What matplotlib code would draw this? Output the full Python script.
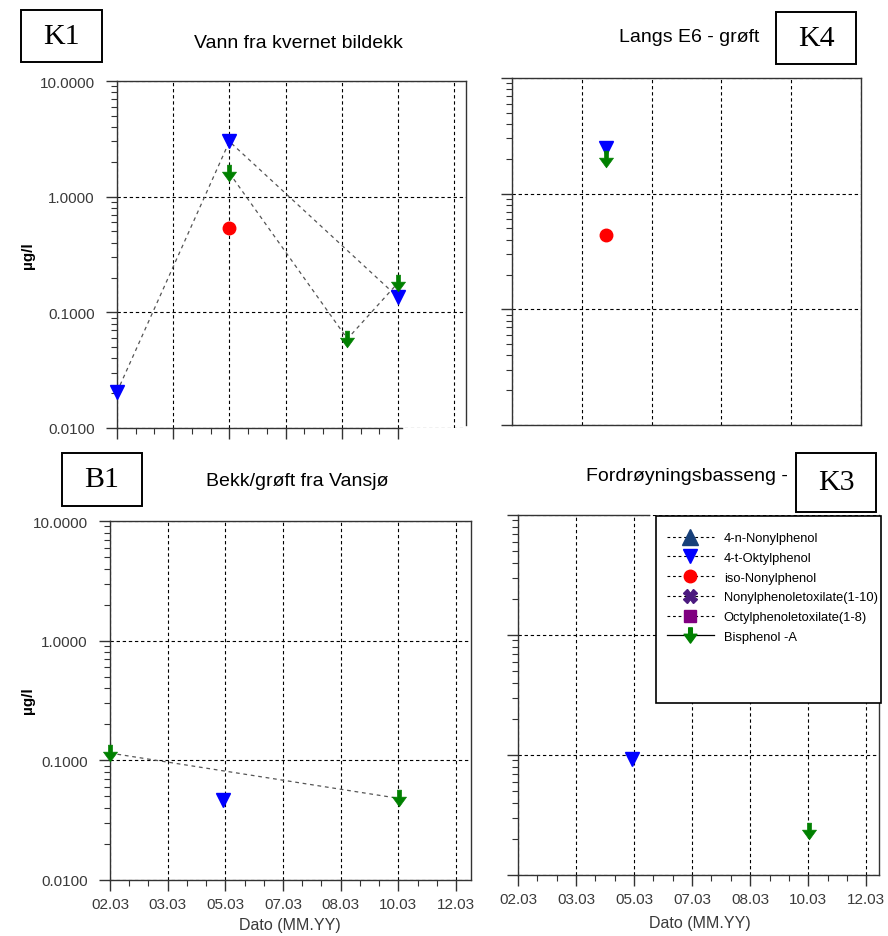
import matplotlib
matplotlib.use('Agg')
import matplotlib.pyplot as plt
import numpy as np
from matplotlib.lines import Line2D
from matplotlib.patches import Rectangle
from matplotlib.path import Path
from matplotlib.ticker import FixedLocator, FixedFormatter, NullFormatter, LogLocator

plt.rcParams['font.family'] = ['Liberation Sans', 'DejaVu Sans']

W, H, DPI = 888, 937, 100

# ---------------- data ----------------
date_labels = ['02.03', '03.03', '05.03', '07.03', '08.03', '10.03', '12.03']
y_ticks = [0.01, 0.1, 1.0, 10.0]
y_tick_labels = ['0.0100', '0.1000', '1.0000', '10.0000']

series_names = ['4-n-Nonylphenol', '4-t-Oktylphenol', 'iso-Nonylphenol',
                'Nonylphenoletoxilate(1-10)', 'Octylphenoletoxilate(1-8)', 'Bisphenol -A']

# K1 - Vann fra kvernet bildekk
k1_okt_x = [0, 2, 5]
k1_okt_y = [0.0205, 3.0, 0.135]
k1_bpa_x = [2, 4.1, 5]
k1_bpa_y = [1.6, 0.059, 0.18]
k1_iso_x = [2]
k1_iso_y = [0.54]

# K4 - Langs E6 - grøft
k4_okt_x = [1.34]
k4_okt_y = [2.5]
k4_bpa_x = [1.34]
k4_bpa_y = [2.0]
k4_iso_x = [1.34]
k4_iso_y = [0.436]

# B1 - Bekk/grøft fra Vansjø
b1_okt_x = [1.96]
b1_okt_y = [0.047]
b1_bpa_x = [0, 5.02]
b1_bpa_y = [0.115, 0.048]

# K3 - Fordrøyningsbasseng
k3_okt_x = [1.97]
k3_okt_y = [0.093]
k3_bpa_x = [5.02]
k3_bpa_y = [0.0234]

# ---------------- styles ----------------
C_NNP = '#17407a'
C_OKT = '#0000ff'
C_ISO = '#ff0000'
C_NPE = '#4b1a7f'
C_OPE = '#800080'
C_BPA = '#008000'
SPC = '#333333'
TXT = '#3a3a3a'

bpa_path = Path([(-0.12, 0.5), (0.12, 0.5), (0.12, 0.08), (0.42, 0.08), (0, -0.5),
                 (-0.42, 0.08), (-0.12, 0.08), (-0.12, 0.5)],
                [Path.MOVETO] + [Path.LINETO] * 6 + [Path.CLOSEPOLY])

LINE_KW = dict(color='#555555', lw=0.9, linestyle=(0, (3, 3)))
GRID_KW = dict(color='black', lw=0.8, linestyle=(0, (3, 2.5)))

fig = plt.figure(figsize=(W / DPI, H / DPI), dpi=DPI)
fig.patch.set_facecolor('white')


def px_axes(l, t, r, b):
    return fig.add_axes([l / W, 1 - b / H, (r - l) / W, (b - t) / H])


def style(ax, xmax, xmajor, ylabels, xlabels, xticks=True, xminor_end=None):
    ax.set_yscale('log')
    ax.set_ylim(0.01, 10)
    ax.set_xlim(0, xmax)
    ax.yaxis.set_major_locator(FixedLocator(y_ticks))
    ax.yaxis.set_major_formatter(FixedFormatter(y_tick_labels))
    ax.yaxis.set_minor_locator(LogLocator(base=10, subs=np.arange(2, 10)))
    ax.yaxis.set_minor_formatter(NullFormatter())
    ax.xaxis.set_major_locator(FixedLocator(xmajor))
    if xlabels:
        ax.xaxis.set_major_formatter(FixedFormatter(date_labels[:len(xmajor)]))
    else:
        ax.xaxis.set_major_formatter(NullFormatter())
    if xminor_end is not None:
        mins = [i + f for i in range(int(xminor_end)) for f in (1 / 3, 2 / 3)]
        ax.xaxis.set_minor_locator(FixedLocator(mins))
    ax.tick_params(axis='y', which='major', length=8, width=1, color=SPC,
                   labelsize=11, labelcolor=TXT, pad=8, labelleft=ylabels)
    ax.tick_params(axis='y', which='minor', length=4, width=0.8, color=SPC)
    if xticks:
        ax.tick_params(axis='x', which='major', length=8, width=1, color=SPC,
                       labelsize=11, labelcolor=TXT, pad=4)
        ax.tick_params(axis='x', which='minor', length=4, width=0.8, color=SPC)
    else:
        ax.tick_params(axis='x', which='both', length=0, labelbottom=False)
    ax.grid(True, which='major', **GRID_KW)
    for s in ax.spines.values():
        s.set_color(SPC)
        s.set_linewidth(1.0)


def plot_okt(ax, x, y, line):
    ax.plot(x, y, marker='v', ms=10, mfc=C_OKT, mec=C_OKT, clip_on=False,
            **(LINE_KW if line else dict(linestyle='none')), zorder=3)


def plot_bpa(ax, x, y, line):
    ax.plot(x, y, marker=bpa_path, ms=12, mfc=C_BPA, mec=C_BPA, mew=0.5, clip_on=False,
            **(LINE_KW if line else dict(linestyle='none')), zorder=3)


def plot_iso(ax, x, y):
    ax.plot(x, y, marker='o', ms=9, mfc=C_ISO, mec=C_ISO, linestyle='none',
            clip_on=False, zorder=3)


# ---- K1 ----
ax1 = px_axes(117, 82, 466, 429)
style(ax1, 6.21, list(range(7)), True, False, True, 5)
ax1.xaxis.get_major_ticks()[6].tick1line.set_visible(False)
ax1.spines['bottom'].set_bounds(0, 5.07)
ax1.spines['right'].set_bounds(0.0106, 10)
plot_okt(ax1, k1_okt_x, k1_okt_y, True)
plot_bpa(ax1, k1_bpa_x, k1_bpa_y, True)
plot_iso(ax1, k1_iso_x, k1_iso_y)

# ---- K4 ----
ax2 = px_axes(512, 79, 861, 426)
style(ax2, 5.0, list(range(6)), False, False, False, None)
plot_okt(ax2, k4_okt_x, k4_okt_y, False)
plot_bpa(ax2, k4_bpa_x, k4_bpa_y, False)
plot_iso(ax2, k4_iso_x, k4_iso_y)

# ---- B1 ----
ax3 = px_axes(110, 522, 471, 881)
style(ax3, 6.26, list(range(7)), True, True, True, 6)
plot_okt(ax3, b1_okt_x, b1_okt_y, False)
plot_bpa(ax3, b1_bpa_x, b1_bpa_y, True)

# ---- K3 ----
ax4 = px_axes(518, 516, 879, 876)
style(ax4, 6.22, list(range(7)), False, True, True, 6)
ax4.spines['top'].set_bounds(0, 2.26)
plot_okt(ax4, k3_okt_x, k3_okt_y, False)
plot_bpa(ax4, k3_bpa_x, k3_bpa_y, False)


# ---------------- texts ----------------
def ftext(x, y, s, **kw):
    fig.text(x / W, 1 - y / H, s, **kw)


ftext(298, 43, 'Vann fra kvernet bildekk', fontsize=14, ha='center', va='center')
ftext(689, 38, 'Langs E6 - grøft', fontsize=14, ha='center', va='center')
ftext(297, 482, 'Bekk/grøft fra Vansjø', fontsize=14, ha='center', va='center')
ftext(687, 477, 'Fordrøyningsbasseng -', fontsize=14, ha='center', va='center')

ftext(28, 256, 'µg/l', fontsize=11, fontweight='bold', rotation=90, ha='center', va='center')
ftext(28, 701, 'µg/l', fontsize=11, fontweight='bold', rotation=90, ha='center', va='center')

ftext(290, 926, 'Dato (MM.YY)', fontsize=11.5, color=TXT, ha='center', va='center')
ftext(700, 924, 'Dato (MM.YY)', fontsize=11.5, color=TXT, ha='center', va='center')


def label_box(l, t, r, b, s):
    fig.patches.append(Rectangle((l / W, 1 - b / H), (r - l) / W, (b - t) / H,
                                 transform=fig.transFigure, facecolor='white',
                                 edgecolor='black', lw=1.4, zorder=3))
    fig.text((l + r) / 2 / W, 1 - (t + b) / 2 / H, s, fontsize=21.5,
             family=['Liberation Serif', 'DejaVu Serif'], ha='center', va='center', zorder=4)


label_box(21, 11, 102, 63, 'K1')
label_box(776, 13, 856, 65, 'K4')
label_box(62, 454, 142, 507, 'B1')
label_box(796, 454, 876, 513, 'K3')

# ---------------- legend ----------------
fig.patches.append(Rectangle((656 / W, 1 - 704 / H), (881 - 656) / W, (704 - 517) / H,
                             transform=fig.transFigure, facecolor='white',
                             edgecolor='black', lw=1.2, zorder=3))
dash = (0, (2.5, 2.5))
handles = [
    Line2D([], [], color='black', lw=0.8, linestyle=dash, marker='^', ms=11, mfc=C_NNP, mec=C_NNP),
    Line2D([], [], color='black', lw=0.8, linestyle=dash, marker='v', ms=10, mfc=C_OKT, mec=C_OKT),
    Line2D([], [], color='black', lw=0.8, linestyle=dash, marker='o', ms=9, mfc=C_ISO, mec=C_ISO),
    Line2D([], [], color='black', lw=0.8, linestyle=dash, marker='X', ms=10, mfc=C_NPE, mec=C_NPE),
    Line2D([], [], color='black', lw=0.8, linestyle=dash, marker='s', ms=9, mfc=C_OPE, mec=C_OPE),
    Line2D([], [], color='black', lw=0.9, linestyle='-', marker=bpa_path, ms=11, mfc=C_BPA, mec=C_BPA),
]
leg = fig.legend(handles, series_names, loc='upper left',
                 bbox_to_anchor=(667 / W, 1 - 533 / H), frameon=False,
                 fontsize=9.3, handlelength=3.6, handletextpad=0.8,
                 labelspacing=0.6, borderpad=0, borderaxespad=0, numpoints=1)
leg.set_zorder(5)

fig.savefig('out.png', dpi=DPI, facecolor='white')
